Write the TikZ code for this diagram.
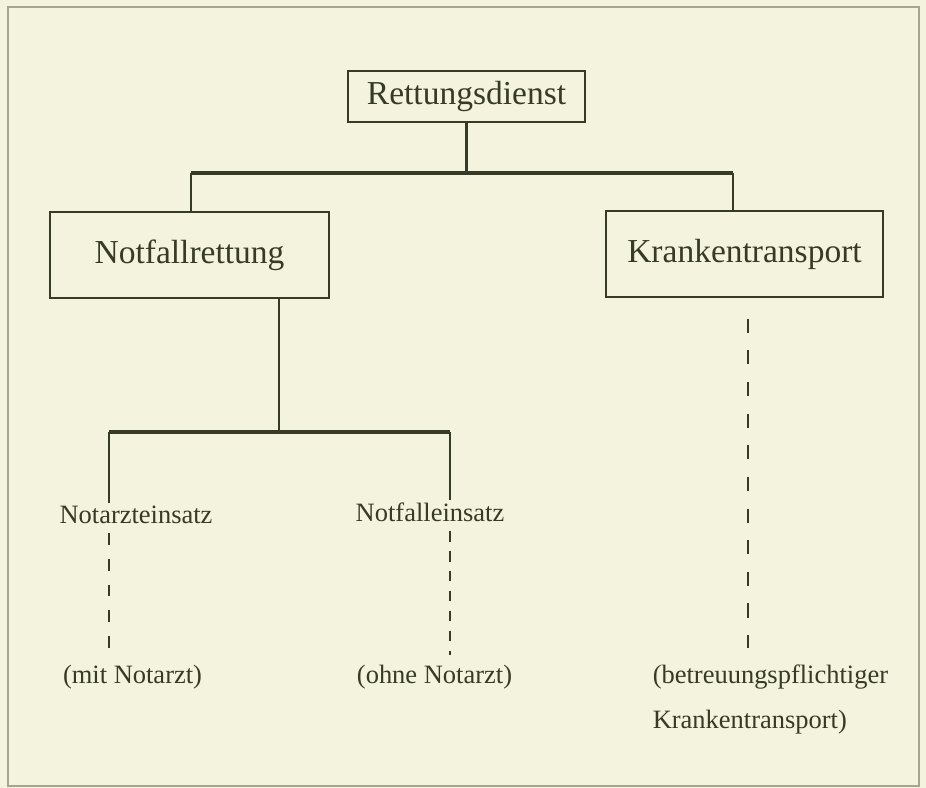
\documentclass[tikz,border=0pt]{standalone}
\usepackage{fontspec}
\setmainfont{Liberation Serif}
\usetikzlibrary{positioning}
\tikzset{every picture/.style={line width=0.75pt}}
\definecolor{paper}{RGB}{244,243,221}
\definecolor{ink}{RGB}{56,58,40}
\definecolor{rim}{RGB}{165,165,145}
\tikzset{
    box/.style={draw=ink, line width=1.2pt, inner sep=0pt, text=ink, font=\fontsize{28.6}{34}\selectfont},
    smalltext/.style={text=ink, inner sep=2pt, font=\fontsize{22.6}{38.4}\selectfont},
    stem/.style={ink, line width=1.8pt},
    bar/.style={ink, line width=2.6pt},
    dashline/.style={ink, line width=1.6pt, dash pattern=on 10pt off 12pt},
}

\begin{document}
\begin{tikzpicture}[x=0.03cm, y=-0.03cm]
    % Hintergrund und Rahmen
    \fill[paper] (0,0) rectangle (926,788);
    \useasboundingbox (0,0) rectangle (926,788);
    \draw[rim, line width=1.6pt] (8,7) rectangle (919,786);

    % Kästen
    \node[box, minimum width=7.11cm, minimum height=1.53cm] (rd) at (466.5,96.5) {Rettungsdienst};
    \node[box, minimum width=8.37cm, minimum height=2.58cm] (nr) at (189.5,255) {Notfallrettung};
    \node[box, minimum width=8.31cm, minimum height=2.58cm] (kt) at (744.5,254) {Krankentransport};

    % Einsatzarten
    \node[smalltext, anchor=base] (notarzt) at (136,523) {Notarzteinsatz};
    \node[smalltext, anchor=base] (notfall) at (430,521) {Notfalleinsatz};
    \node[smalltext, anchor=base] (mit) at (132.5,683) {(mit Notarzt)};
    \node[smalltext, anchor=base] (ohne) at (434.5,683) {(ohne Notarzt)};
    \node[smalltext, anchor=base west, align=left] (betreu) at (650,728) {(betreuungspflichtiger\\Krankentransport)};

    % obere Verzweigung
    \coordinate (bar1 west) at (191,173);
    \coordinate (bar1 east) at (733,173);
    \draw[stem] (rd.south) -- (rd.south |- bar1 west);
    \draw[bar] (bar1 west) -- (bar1 east);
    \draw[stem] (bar1 west) -- (bar1 west |- nr.north);
    \draw[stem] (bar1 east) -- (bar1 east |- kt.north);

    % untere Verzweigung
    \coordinate (bar2 west) at (109,432);
    \coordinate (bar2 mid) at (279,432);
    \coordinate (bar2 east) at (450,432);
    \draw[stem] (bar2 mid |- nr.south) -- (bar2 mid);
    \draw[bar] (bar2 west) -- (bar2 east);
    \draw[stem] (bar2 west) -- (bar2 west |- notarzt.north);
    \draw[stem] (bar2 east) -- (bar2 east |- notfall.north);

    % gestrichelte Linien
    \draw[dashline, shorten <=6pt, shorten >=8pt] (bar2 west |- notarzt.south) -- (bar2 west |- mit.north);
    \draw[dashline, dash pattern=on 9pt off 8pt, shorten <=6pt, shorten >=6pt] (bar2 east |- notfall.south) -- (bar2 east |- ohne.north);
    \draw[dashline, dash pattern=on 12pt off 15pt, shorten <=18pt, shorten >=12pt] ([xshift=3.5*0.03cm]kt.south) -- ([xshift=3.5*0.03cm]kt.south |- betreu.north);
\end{tikzpicture}
\end{document}
